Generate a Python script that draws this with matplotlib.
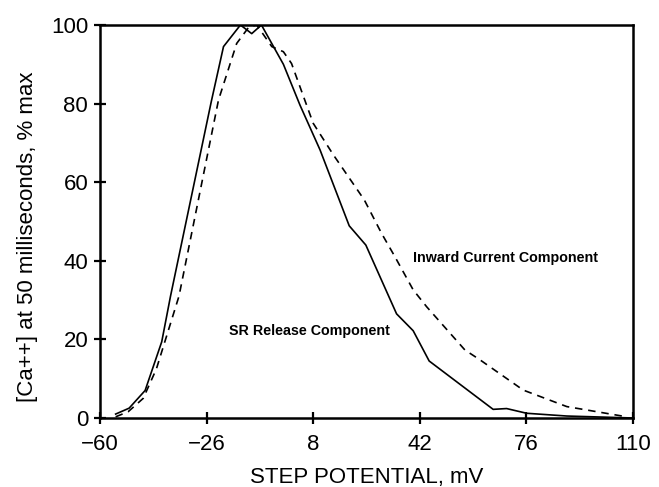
import matplotlib
matplotlib.use("Agg")
import matplotlib.pyplot as plt

# Data
sr_x = [-55, -50.7, -45.6, -40.3, -37.5, -24.5, -20.6, -15.2, -11.6, -8.5, -1.5, 3.8, 10.2, 19.5, 24.8, 34.6, 39.9, 45.0, 65.4, 69.7, 76.1, 88.9, 110]
sr_y = [1.0, 2.5, 7.0, 19.4, 31.0, 80.5, 94.5, 100, 97.8, 100, 90.0, 79.6, 68.2, 48.9, 44.0, 26.5, 22.2, 14.5, 2.2, 2.4, 1.2, 0.5, 0.0]

inward_x = [-55, -51, -46.2, -42.0, -34.8, -22.2, -16.4, -12.5, -10, -5.2, -1.5, 1.1, 8.0, 14.4, 24.3, 29.8, 34.1, 39.9, 44.2, 56.4, 61.2, 75.0, 88.9, 108]
inward_y = [0.3, 1.6, 5.0, 12.5, 31.0, 80.9, 95.3, 99.5, 100, 94.5, 93.2, 90.2, 75.0, 67.0, 55.5, 47.0, 41.0, 32.6, 28.3, 17.3, 14.8, 7.1, 2.9, 0.3]

x_ticks = [-60, -26, 8, 42, 76, 110]
y_ticks = [0, 20, 40, 60, 80, 100]

plt.rcParams['font.family'] = ['Liberation Sans', 'DejaVu Sans']

fig = plt.figure(figsize=(6.59, 4.87), dpi=100)
ax = fig.add_axes([0.1517, 0.1417, 0.8088, 0.807])

ax.plot(sr_x, sr_y, color='black', linewidth=1.2, linestyle='-')
ax.plot(inward_x, inward_y, color='black', linewidth=1.2, linestyle=(0, (4.5, 3.5)))

ax.set_xlim(-60, 110)
ax.set_ylim(0, 100)
ax.set_xticks(x_ticks)
ax.set_yticks(y_ticks)
ax.set_xticklabels([str(v).replace('-', '\u2212') for v in x_ticks])
ax.set_yticklabels([str(v) for v in y_ticks])

for s in ax.spines.values():
    s.set_linewidth(1.8)
ax.tick_params(direction='inout', length=9, width=1.6, labelsize=16)
ax.tick_params(axis='x', pad=7)
ax.tick_params(axis='y', pad=4)

ax.set_xlabel('STEP POTENTIAL, mV', fontsize=16, labelpad=9)
ax.set_ylabel('[Ca++] at 50 milliseconds, % max', fontsize=16)
ax.yaxis.set_label_coords(-0.116, 0.46)

ax.text(39.8, 40.7, 'Inward Current Component', fontsize=10.3, fontweight='bold', va='center', ha='left')
ax.text(-18.9, 22.1, 'SR Release Component', fontsize=10.3, fontweight='bold', va='center', ha='left')

fig.savefig('out.png', dpi=100)
